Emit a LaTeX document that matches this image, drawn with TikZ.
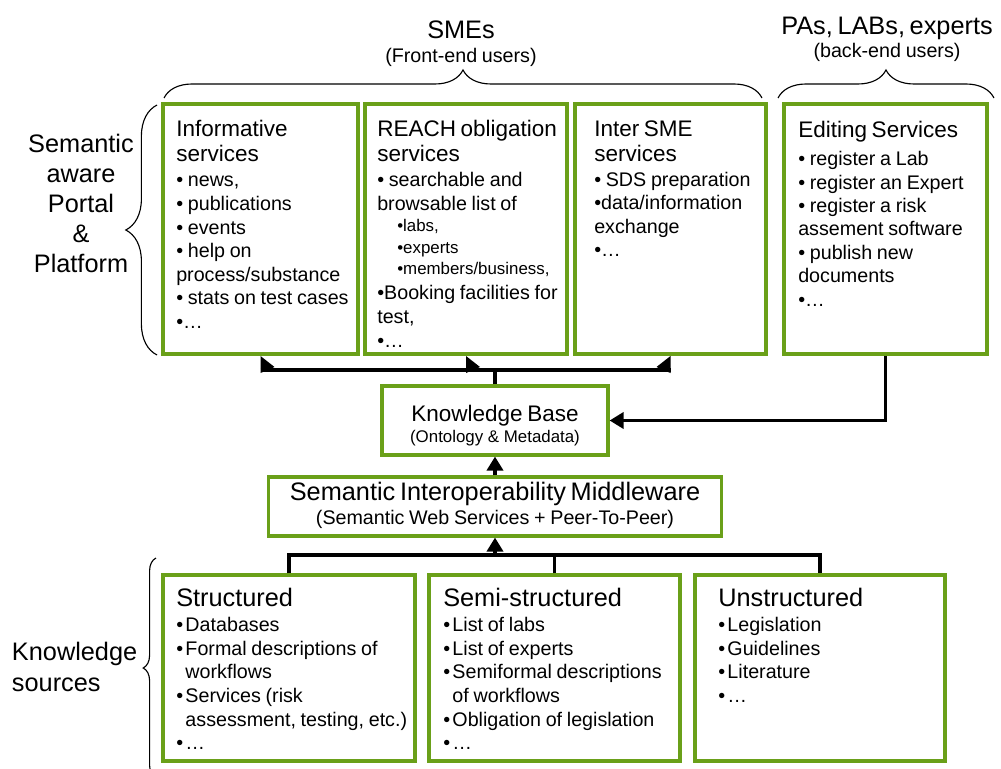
\documentclass[tikz,border=0pt]{standalone}
\usepackage{fontspec}
\setmainfont{Liberation Sans}
\usetikzlibrary{arrows.meta,decorations.pathreplacing,calc}
\definecolor{boxgreen}{RGB}{106,160,25}
\newcommand\myfs[2]{\fontsize{#1}{#2}\selectfont}
\newcommand\itm{\par\hangindent=2.3mm\hangafter=1\noindent\makebox[2.3mm][l]{•}}
\begin{document}
\begin{tikzpicture}[x=0.025cm,y=-0.025cm,
  box/.style={draw=boxgreen,line width=2.2pt,inner sep=0pt},
  txt/.style={inner sep=0pt,anchor=base west,align=left,text width=#1},
  ctxt/.style={inner sep=0pt,anchor=base,align=center,text width=#1},
  conn/.style={line width=2.6pt},
  tip/.style={-{Triangle[length=3.5mm,width=4mm]}},
  brc/.style={decorate,decoration={brace,amplitude=#1},line width=0.8pt},
]
\useasboundingbox (0,0) rectangle (1001,769);

% ---- boxes ----
\node[box,minimum width=4.875cm,minimum height=6.25cm] (b1) at (260.5,229) {};
\node[box,minimum width=5.05cm,minimum height=6.25cm] (b2) at (466,229) {};
\node[box,minimum width=4.775cm,minimum height=6.25cm] (b3) at (670.5,229) {};
\node[box,minimum width=5.075cm,minimum height=6.25cm] (b4) at (885.5,229) {};
\node[box,minimum width=5.65cm,minimum height=1.725cm] (kb) at (495,420.5) {};
\node[box,minimum width=11.3cm,minimum height=1.475cm] (mw) at (495,506.5) {};
\node[box,minimum width=6.3cm,minimum height=4.65cm] (s1) at (289,668) {};
\node[box,minimum width=6.275cm,minimum height=4.65cm] (s2) at (554.5,668) {};
\node[box,minimum width=6.25cm,minimum height=4.65cm] (s3) at (820,668) {};

% ---- headings ----
\node[ctxt=4cm] (sme) at (461,38) {\myfs{18}{21}SMEs};
\node[ctxt=5cm] (smesub) at (461,62.6) {\myfs{14}{17}(Front-end users)};
\node[ctxt=5.5cm] (pas) at (887,34) {\myfs{18}{21}PAs, LABs, experts};
\node[ctxt=5cm] (passub) at (887,57.6) {\myfs{14}{17}(back-end users)};
\node[ctxt=3.5cm] (portal) at (81,152) {\myfs{18}{21.5}Semantic\\aware\\Portal\\\&\\Platform\par};
\node[txt=3.6cm] (ks) at (11.7,660) {\myfs{18}{22.5}Knowledge\\sources\par};

% ---- braces ----
\draw[brc=0.7cm] (164,98) -- (762,98);
\draw[brc=0.7cm] (778,98) -- (994,98);
\draw[brc=0.78cm] (157,355) -- (157,105);
\draw[brc=0.32cm] (156,778) -- (156,558);

% ---- box texts ----
\node[txt=45.5mm] (t1) at (176,136.7) {\myfs{16}{17.8}Informative\\services\par\vspace{1pt}%
\myfs{14}{16.8}• news,\\• publications\\• events\\• help on\\process/substance\\• stats on test cases\\•…\par};

\node[txt=47.5mm] (t2) at (377,136.7) {\myfs{16}{17.8}REACH obligation\\services\par\vspace{1pt}%
\myfs{14}{16.8}• searchable and\\browsable list of\par
{\myfs{12}{15.3}\leftskip=5mm •labs,\\•experts\\•members/business,\par}%
\vspace{1pt}\myfs{14}{16.8}•Booking facilities for\\test,\\•…\par};

\node[txt=43mm] (t3) at (594,136) {\myfs{16}{17.8}Inter SME\\services\par\vspace{1pt}%
\myfs{14}{16.8}• SDS preparation\\•data/information\\exchange\\•…\par};

\node[txt=47mm] (t4) at (798,137) {\myfs{16}{17.8}Editing Services\par\vspace{4pt}%
\myfs{14}{16.6}• register a Lab\\• register an Expert\\• register a risk\\assement software\\• publish new\\documents\\•…\par};

\node[ctxt=5.5cm] (kbt) at (495,421.7) {\myfs{16}{19}Knowledge Base\\\myfs{12}{14.8}(Ontology \& Metadata)\par};
\node[ctxt=11cm] (mwt) at (495,500.3) {\myfs{18}{20}Semantic Interoperability Middleware\\\myfs{14}{17}(Semantic Web Services + Peer-To-Peer)\par};

\node[txt=59.75mm] (u1) at (176,606.7) {\myfs{18}{20}Structured\par\vspace{1pt}\myfs{14}{16.8}%
\itm Databases\itm Formal descriptions of\break workflows\itm Services (risk\break assessment, testing, etc.)\itm …\par};
\node[txt=59mm] (u2) at (443,606.7) {\myfs{18}{20}Semi-structured\par\vspace{1pt}\myfs{14}{16.8}%
\itm List of labs\itm List of experts\itm Semiformal descriptions\break of workflows\itm Obligation of legislation\itm …\par};
\node[txt=56mm] (u3) at (718,606.7) {\myfs{18}{20}Unstructured\par\vspace{1pt}\myfs{14}{16.8}%
\itm Legislation\itm Guidelines\itm Literature\itm …\par};

% ---- connectors ----
\coordinate (jt) at (495,370);
\coordinate (aL) at (b1.south |- jt);
\coordinate (aM) at (b2.south |- jt);
\coordinate (aR) at (b3.south |- jt);
\draw[conn] (kb.north) -- (kb.north |- jt);
\draw[conn] (aL) -- (aR);
\fill ($(aL)+(0,-14)$) -- ($(aL)+(0,3)$) -- ($(aL)+(14,-3)$) -- cycle;
\fill ($(aM)+(0,-14)$) -- ($(aM)+(0,3)$) -- ($(aM)+(14,-3)$) -- cycle;
\fill ($(aR)+(0,-14)$) -- ($(aR)+(0,3)$) -- ($(aR)+(-14,-3)$) -- cycle;

\draw[conn,tip] (b4.south) |- (kb.east);
\draw[conn,tip] (mw.north) -- (kb.south);

\coordinate (jb) at (495,555);
\draw[conn] (s1.north) |- (s3.north |- jb) -- (s3.north);
\draw[conn] (s2.north) -- (s2.north |- jb);
\draw[conn,tip] (mw.south |- jb) -- (mw.south);
\end{tikzpicture}
\end{document}
